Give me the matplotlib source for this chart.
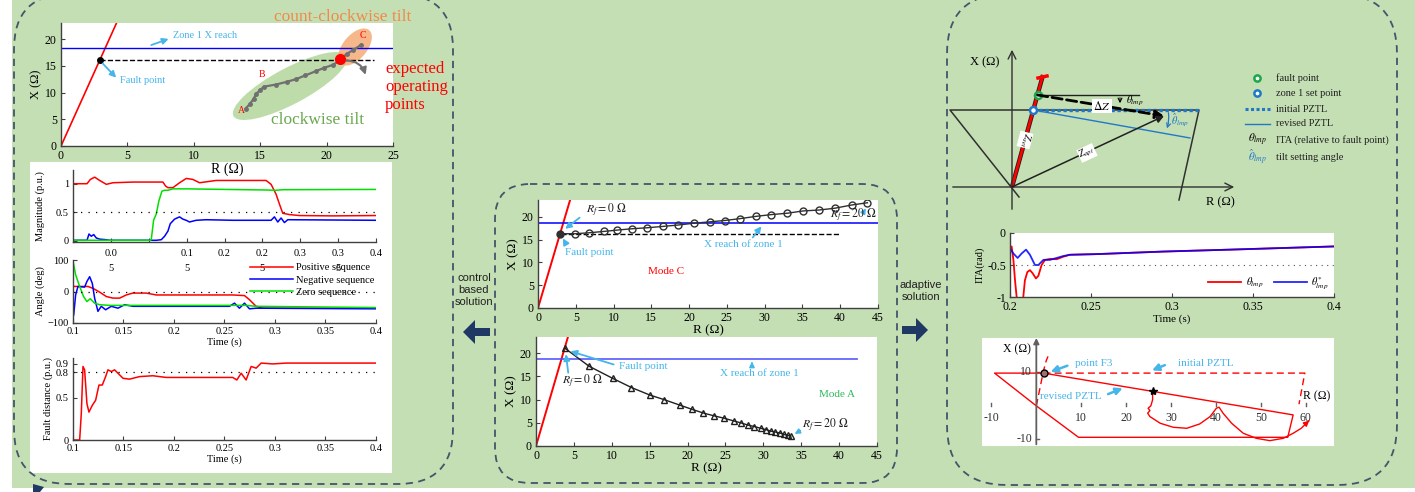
import matplotlib
matplotlib.use('Agg')
import matplotlib.pyplot as plt
from matplotlib.patches import FancyBboxPatch, Ellipse, Rectangle, Polygon
from matplotlib.lines import Line2D

plt.rcParams['font.family'] = ['Liberation Serif', 'DejaVu Serif']
plt.rcParams['mathtext.fontset'] = 'stix'

W, H = 1415, 492

# ---------------- data ----------------
# left top: R-X plane, expected trajectory
lt_line_r = [0, 4.2]
lt_line_x = [0, 23.1]
lt_zone1 = 18.4
lt_fault = (2.9, 16.1)
lt_dash_end = 23.6
lt_traj_r = [13.9, 14.2, 14.5, 14.7, 15.0, 15.3, 16.2, 17.0, 17.7, 18.4, 19.2, 19.8, 20.5, 21.0, 21.5, 22.0, 22.6]
lt_traj_x = [7.0, 7.8, 8.8, 9.75, 10.5, 11.1, 11.5, 12.0, 12.5, 13.2, 14.0, 14.6, 15.2, 16.0, 17.2, 17.95, 18.9]
lt_expected = (21.0, 16.3)

# sequence magnitudes (p.u.)
mag_t_pos = [0, 0.0185, 0.0229, 0.0286, 0.0352, 0.044, 0.0527, 0.0791, 0.1187, 0.1222, 0.1253, 0.1319,
             0.1407, 0.1495, 0.1582, 0.167, 0.189, 0.2549, 0.2615, 0.2681, 0.2725, 0.2769, 0.2857, 0.2989,
             0.3429, 0.4]
mag_pos = [1.0, 1.0, 1.075, 1.115, 1.057, 0.989, 1.017, 1.029, 1.029, 0.96, 0.931, 0.931, 1.017, 1.092,
           1.075, 1.017, 1.057, 1.057, 0.989, 0.816, 0.644, 0.483, 0.46, 0.443, 0.437, 0.443]
mag_t_zero = [0, 0.102, 0.1033, 0.1064, 0.1099, 0.1134, 0.1174, 0.1209, 0.1253, 0.1319, 0.1495, 0.2549,
              0.2681, 0.2769, 0.4]
mag_zero = [0.01, 0.01, 0.02, 0.36, 0.47, 0.7, 0.87, 0.885, 0.885, 0.91, 0.91, 0.89, 0.885, 0.895, 0.9]
mag_t_neg = [0, 0.0185, 0.0211, 0.0242, 0.0273, 0.0308, 0.0352, 0.044, 0.0484, 0.1099, 0.1165, 0.1209,
             0.1253, 0.1284, 0.1341, 0.1407, 0.1451, 0.1495, 0.1538, 0.1626, 0.1758, 0.211, 0.2615, 0.2659,
             0.2703, 0.2747, 0.2791, 0.2835, 0.4]
mag_neg = [0.01, 0.01, 0.12, 0.08, 0.11, 0.05, 0.03, 0.02, 0.01, 0.01, 0.02, 0.08, 0.17, 0.3, 0.38, 0.42,
           0.38, 0.36, 0.33, 0.36, 0.37, 0.36, 0.36, 0.42, 0.33, 0.4, 0.32, 0.37, 0.36]
mag_ticks = [0.05, 0.1, 0.15, 0.2, 0.25, 0.3, 0.35, 0.4]
mag_ticklabels = ['0.0\n5', '', '0.1\n5', '0.2', '0.2\n5', '0.3', '0.3\n5', '0.4']

# sequence angles (deg)
ang_t_pos = [0.1007, 0.1148, 0.1198, 0.1264, 0.133, 0.1396, 0.1462, 0.1527, 0.1593, 0.1725, 0.1824,
             0.2582, 0.2698, 0.2747, 0.2813, 0.2879, 0.4]
ang_pos = [16, 16, 10, -2, -16, -21, -21, -11, -5, -5, -11, -11, -13, -26, -47, -53, -53]
ang_t_neg = [0.1007, 0.1026, 0.1049, 0.1115, 0.1138, 0.1165, 0.1191, 0.1214, 0.1247, 0.128, 0.1323,
             0.1379, 0.1445, 0.1511, 0.1593, 0.1923, 0.2549, 0.2599, 0.2648, 0.2698, 0.2747, 0.2813, 0.4]
ang_neg = [-74, -11, 16, 14, 32, 47, 26, -21, -63, -47, -58, -47, -53, -42, -47, -47, -47, -37, -53, -37,
           -55, -53, -55]
ang_t_zero = [0.1, 0.1026, 0.1066, 0.1105, 0.1138, 0.1171, 0.1214, 0.1264, 0.1363, 0.2714, 0.2813, 0.4]
ang_zero = [97, 53, 16, -16, -32, -23, -37, -42, -44, -44, -47, -51]

# fault distance (p.u.)
fd_t = [0.1, 0.1066, 0.1082, 0.1099, 0.1115, 0.1138, 0.1158, 0.1191, 0.1224, 0.1257, 0.129, 0.1323,
        0.1346, 0.1379, 0.1412, 0.1445, 0.1495, 0.156, 0.1659, 0.1791, 0.1923, 0.2582, 0.2622, 0.2665,
        0.2714, 0.2764, 0.2813, 0.2863, 0.2978, 0.311, 0.4]
fd_val = [0, 0, 0.31, 0.87, 0.83, 0.43, 0.33, 0.41, 0.47, 0.65, 0.65, 0.75, 0.83, 0.81, 0.83, 0.79,
          0.73, 0.72, 0.75, 0.76, 0.74, 0.74, 0.71, 0.79, 0.71, 0.87, 0.85, 0.91, 0.9, 0.91, 0.91]

# mode C trajectory
mc_r = [2.95, 4.9, 6.7, 8.7, 10.5, 12.5, 14.4, 16.5, 18.5, 20.6, 22.7, 24.7, 26.7, 28.8, 30.9, 33.0,
        35.1, 37.2, 39.3, 41.5, 43.6]
mc_x = [16.3, 16.3, 16.5, 16.8, 17.1, 17.4, 17.6, 17.9, 18.2, 18.6, 18.9, 19.2, 19.6, 20.1, 20.5, 20.8,
        21.3, 21.5, 21.9, 22.6, 23.1]
mc_zone1 = 18.6
mc_dash = (3.0, 40.0, 16.2)

# mode A trajectory
ma_r = [3.8, 7.0, 10.1, 12.6, 15.0, 16.9, 19.0, 20.6, 22.1, 23.5, 24.8, 26.1, 27.0, 28.0, 28.8, 29.7,
        30.4, 31.0, 31.6, 32.2, 32.7, 33.2, 33.6]
ma_x = [21.1, 17.2, 14.6, 12.6, 11.0, 10.0, 8.8, 7.9, 7.1, 6.5, 6.0, 5.4, 5.0, 4.5, 4.2, 3.8, 3.5, 3.2,
        3.0, 2.8, 2.5, 2.3, 2.1]
ma_zone1 = 18.7
ma_zone1_end = 42.4

# ITA (rad)
ita_t_red = [0.2, 0.201, 0.2021, 0.2031, 0.2041, 0.2051, 0.2066, 0.2082, 0.2092, 0.2107, 0.2123, 0.214,
             0.216, 0.2175, 0.2195, 0.2216, 0.2247, 0.2288, 0.2329, 0.237, 0.2534, 0.2946, 0.3357, 0.4]
ita_red = [-0.26, -0.21, -0.42, -0.74, -1.0, -1.16, -1.21, -1.0, -0.74, -0.61, -0.58, -0.63, -0.71,
           -0.67, -0.5, -0.42, -0.405, -0.41, -0.37, -0.34, -0.33, -0.29, -0.26, -0.21]
ita_t_blue = [0.2, 0.2021, 0.2047, 0.2072, 0.2099, 0.2123, 0.2154, 0.2175, 0.2206, 0.2247, 0.2288,
              0.2329, 0.237, 0.2534, 0.2946, 0.3357, 0.4]
ita_blue = [-0.24, -0.32, -0.39, -0.32, -0.26, -0.34, -0.5, -0.5, -0.42, -0.42, -0.39, -0.36, -0.34,
            -0.33, -0.29, -0.26, -0.21]

# schematic (right top), units = pixels from the origin
sc_quad = [(7, -10), (-62, 77), (187, 77), (167, -13)]
sc_zline = [(0, 0), (31, 112)]
sc_fault = (25.5, 92)
sc_set = (21.3, 77)
sc_zapt = (152, 71)
sc_revised_end = (178, 49)
sc_initial_end = (187, 77)

# R-X with trajectory (right bottom)
rb_zone = [(1.6, 9.8), (-9.3, 9.8), (0, 0), (9.4, -9.4), (56, -9.4), (57.2, -2.7), (1.6, 9.8)]
rb_initial = [(1.6, 9.8), (59.8, 9.8), (58.5, 0.5)]
rb_zline = [(0, 0), (1.6, 10.5), (2.2, 13.5), (2.6, 14.8)]
rb_f3 = (1.6, 9.8)
rb_start = (25.9, 4.3)
rb_traj_r = [25.9, 25.9, 25.5, 24.9, 25.3, 24.8, 25.3, 27.6, 30.5, 33.5, 36.4, 38.7, 40.1, 40.7, 41.6,
             43.5, 46.1, 49.0, 52.0, 55.0, 57.2, 59.0, 60.3]
rb_traj_x = [4.3, 1.8, 0.0, -0.7, -1.4, -2.2, -3.2, -5.2, -6.4, -6.7, -5.4, -3.2, -0.7, -0.4, -2.2, -5.2,
             -8.2, -9.7, -10.4, -9.7, -8.2, -6.7, -5.0]
rb_xticks = [-10, 10, 20, 30, 40, 50, 60]
rb_yticks = [10, -10]

LB = '#45b5ea'
NAVY = '#203864'
BOXC = '#44546a'

fig = plt.figure(figsize=(W / 100, H / 100), dpi=100)


def px_axes(x0, y0, x1, y1, **kw):
    return fig.add_axes([x0 / W, 1 - y1 / H, (x1 - x0) / W, (y1 - y0) / H], **kw)


def matlab_style(ax, fs=8):
    for s in ['top', 'right']:
        ax.spines[s].set_visible(False)
    for s in ['left', 'bottom']:
        ax.spines[s].set_color('#404040')
        ax.spines[s].set_linewidth(1.0)
    ax.tick_params(direction='in', labelsize=fs, length=3, width=0.8, color='#404040', pad=3)


def lb_arrow(ax, xy, xytext, ms=9, lw=1.3):
    ax.annotate('', xy=xy, xytext=xytext,
                arrowprops=dict(arrowstyle='-|>', color=LB, lw=lw, mutation_scale=ms))


# ---------------- background (green, white panels, ellipses) ----------------
bg = fig.add_axes([0, 0, 1, 1], zorder=-5)
bg.set_xlim(0, W)
bg.set_ylim(H, 0)
bg.axis('off')
bg.add_patch(Rectangle((12, 0), W - 12, 488, color='#c5dfb4', lw=0))
bg.add_patch(Rectangle((61, 23), 332, 123, color='white', lw=0))
bg.add_patch(Rectangle((30, 162), 362, 311, color='white', lw=0))
bg.add_patch(Rectangle((982, 338), 352, 108, color='white', lw=0))
bg.add_patch(Ellipse((290, 86), 128, 36, angle=-28, color='#a9d18e', alpha=0.75, lw=0))
bg.add_patch(Ellipse((355, 47), 44, 24, angle=-50, color='#f4a56e', alpha=0.8, lw=0))

# ---------------- left top: R-X ----------------
ax = px_axes(61, 23, 393, 146, facecolor='none')
matlab_style(ax, 8.5)
ax.plot(lt_line_r, lt_line_x, color='red', lw=1.2)
ax.axhline(lt_zone1, color='blue', lw=1.0)
ax.plot([lt_fault[0], lt_dash_end], [lt_fault[1], lt_fault[1]], 'k--', lw=1.0)
ax.plot(lt_traj_r, lt_traj_x, color='#707070', lw=1.6, marker='o', ms=2.5)
ax.plot(*lt_fault, 'ko', ms=4)
ax.plot(*lt_expected, 'o', color='red', ms=7)
ax.annotate('', xy=(23.0, 12.8), xytext=(21.3, 16.0),
            arrowprops=dict(arrowstyle='-|>', color='#707070', lw=1.5, mutation_scale=10,
                            connectionstyle='arc3,rad=-0.4'))
lb_arrow(ax, (4.3, 12.4), (3.0, 15.8))
ax.text(4.45, 12.2, 'Fault point', color=LB, fontsize=7.5, va='center')
lb_arrow(ax, (8.3, 20.2), (6.6, 18.7))
ax.text(8.4, 20.6, 'Zone 1 X reach', color=LB, fontsize=7.5, va='center')
ax.text(13.3, 6.2, 'A', color='red', fontsize=7)
ax.text(14.9, 12.9, 'B', color='red', fontsize=7)
ax.text(22.5, 20.2, 'C', color='red', fontsize=7)
ax.set_xlim(0, 25)
ax.set_ylim(0, 23)
ax.set_xticks([0, 5, 10, 15, 20, 25])
ax.set_yticks([0, 5, 10, 15, 20])
ax.set_xlabel('R (\u03a9)', fontsize=10, labelpad=0)
ax.set_ylabel('X (\u03a9)', fontsize=9, labelpad=2)

# ---------------- magnitude ----------------
ax = px_axes(73, 170, 376, 242, facecolor='none')
matlab_style(ax, 7.5)
ax.plot(mag_t_pos, mag_pos, color='red', lw=1.1)
ax.plot(mag_t_neg, mag_neg, color='blue', lw=1.1)
ax.plot(mag_t_zero, mag_zero, color='#00e000', lw=1.1)
ax.axhline(0.5, color='black', ls=(0, (1, 5)), lw=0.9)
ax.set_xlim(0, 0.4)
ax.set_ylim(-0.02, 1.24)
ax.set_yticks([0, 0.5, 1])
ax.set_yticklabels(['0', '0.5', '1'])
ax.set_xticks(mag_ticks)
ax.set_xticklabels(mag_ticklabels, linespacing=1.9)
ax.tick_params(axis='x', pad=5)
ax.set_ylabel('Magnitude (p.u.)', fontsize=7.5, labelpad=8)

# ---------------- angle ----------------
ax = px_axes(73, 260, 376, 323, facecolor='none')
matlab_style(ax, 7.5)
l1, = ax.plot(ang_t_pos, ang_pos, color='red', lw=1.1)
l2, = ax.plot(ang_t_neg, ang_neg, color='blue', lw=1.1)
l3, = ax.plot(ang_t_zero, ang_zero, color='#00e000', lw=1.1)
ax.axhline(0, color='black', ls=(0, (1, 5)), lw=0.9)
ax.set_xlim(0.1, 0.4)
ax.set_ylim(-100, 100)
ax.set_yticks([-100, 0, 100])
ax.set_xticks([0.1, 0.15, 0.2, 0.25, 0.3, 0.35, 0.4])
ax.set_xticklabels(['0.1', '0.15', '0.2', '0.25', '0.3', '0.35', '0.4'])
ax.set_xlabel('Time (s)', fontsize=7.5, labelpad=1)
ax.set_ylabel('Angle (deg)', fontsize=7.5, labelpad=2)
ax.legend([l1, l2, l3], ['Positive sequence', 'Negative sequence', 'Zero sequence'],
          loc='upper right', bbox_to_anchor=(1.01, 1.02), frameon=False, fontsize=7.5,
          handlelength=4.2, handletextpad=0.3, labelspacing=0.3, borderaxespad=0.0)

# ---------------- fault distance ----------------
ax = px_axes(73, 358, 376, 440, facecolor='none')
matlab_style(ax, 7.5)
ax.plot(fd_t, fd_val, color='red', lw=1.1)
ax.axhline(0.8, color='black', ls=(0, (1, 5)), lw=0.9)
ax.set_xlim(0.1, 0.4)
ax.set_ylim(0, 0.97)
ax.set_yticks([0, 0.5, 0.8, 0.9])
ax.set_yticklabels(['0', '0.5', '0.8', '0.9'])
ax.set_xticks([0.1, 0.15, 0.2, 0.25, 0.3, 0.35, 0.4])
ax.set_xticklabels(['0.1', '0.15', '0.2', '0.25', '0.3', '0.35', '0.4'])
ax.set_xlabel('Time (s)', fontsize=7.5, labelpad=1)
ax.set_ylabel('Fault distance (p.u.)', fontsize=7.5, labelpad=2)

# ---------------- mode C ----------------
ax = px_axes(538, 200, 878, 308)
matlab_style(ax, 8.5)
ax.plot([0, 4.3], [0, 24], color='red', lw=1.4)
ax.axhline(mc_zone1, color='blue', lw=1.1)
ax.plot(mc_dash[:2], [mc_dash[2]] * 2, 'k--', lw=1.0)
ax.plot(mc_r, mc_x, color='#303030', lw=1.0, marker='o', ms=5, mfc='none', mec='#303030')
ax.plot(mc_r[0], mc_x[0], 'o', color='#303030', ms=4)
lb_arrow(ax, (3.3, 17.0), (5.8, 20.2))
ax.text(6.3, 21.3, r'$R_f = 0\ \Omega$', fontsize=8.5, color='#202020', va='center')
lb_arrow(ax, (3.1, 15.8), (3.9, 13.5))
ax.text(3.6, 12.1, 'Fault point', fontsize=8, color=LB, va='center')
lb_arrow(ax, (29.8, 18.4), (28.2, 15.0))
ax.text(22.0, 14.0, 'X reach of zone 1', fontsize=8, color=LB, va='center')
lb_arrow(ax, (43.6, 22.4), (43.0, 20.8), ms=7)
ax.text(38.6, 20.2, r'$R_f = 20\ \Omega$', fontsize=8.5, color='#202020', va='center')
ax.text(17.0, 8.1, 'Mode C', fontsize=8, color='red', ha='center', va='center')
ax.set_xlim(0, 45)
ax.set_ylim(0, 23.7)
ax.set_xticks(range(0, 50, 5))
ax.set_yticks([0, 5, 10, 15, 20])
ax.set_xlabel('R (\u03a9)', fontsize=9.5, labelpad=0)
ax.set_ylabel('X (\u03a9)', fontsize=9.5, labelpad=2)

# ---------------- mode A ----------------
ax = px_axes(536, 337, 877, 446)
matlab_style(ax, 8.5)
ax.plot([0, 4.3], [0, 24], color='red', lw=1.4)
ax.plot([0, ma_zone1_end], [ma_zone1] * 2, color='#4a4aff', lw=1.3, alpha=0.85)
ax.plot(ma_r, ma_x, color='#202020', lw=1.0, marker='^', ms=5, mfc='none', mec='#202020')
lb_arrow(ax, (4.2, 20.6), (10.6, 17.4))
ax.text(10.9, 17.1, 'Fault point', fontsize=8, color=LB, va='center')
lb_arrow(ax, (3.9, 20.4), (4.3, 15.2))
ax.text(3.4, 13.9, r'$R_f = 0\ \Omega$', fontsize=8.5, color='#202020', va='center')
lb_arrow(ax, (28.5, 18.8), (28.5, 17.0), ms=7)
ax.text(24.3, 15.7, 'X reach of zone 1', fontsize=8, color=LB, va='center')
lb_arrow(ax, (33.8, 2.3), (35.2, 3.6), ms=7)
ax.text(35.1, 4.5, r'$R_f = 20\ \Omega$', fontsize=8.5, color='#202020', va='center')
ax.text(39.7, 11.0, 'Mode A', fontsize=8, color='#2fb85a', ha='center', va='center')
ax.set_xlim(0, 45)
ax.set_ylim(0, 23.5)
ax.set_xticks(range(0, 50, 5))
ax.set_yticks([0, 5, 10, 15, 20])
ax.set_xlabel('R (\u03a9)', fontsize=9.5, labelpad=0)
ax.set_ylabel('X (\u03a9)', fontsize=9.5, labelpad=2)

# ---------------- right top schematic ----------------
ax = px_axes(940, 40, 1245, 215, facecolor='none')
ax.axis('off')
ax.set_xlim(-72, 233)
ax.set_ylim(-28, 147)
ax.annotate('', xy=(225, 0), xytext=(-62, 0),
            arrowprops=dict(arrowstyle='->', color='#303030', lw=1.0, mutation_scale=14))
ax.annotate('', xy=(0, 140), xytext=(0, -25),
            arrowprops=dict(arrowstyle='->', color='#303030', lw=1.0, mutation_scale=14))
qx, qy = zip(*sc_quad)
ax.plot(qx, qy, color='#303030', lw=1.1)
zx, zy = zip(*sc_zline)
ax.plot(zx, zy, color='#202020', lw=3.2, solid_capstyle='butt')
ax.plot(zx, zy, color='red', lw=2.0, solid_capstyle='butt')
ax.plot([26, 35], [109, 111], color='red', lw=2.5)
ax.plot([sc_fault[0], 127], [sc_fault[1]] * 2, color='#202020', lw=1.0)
ax.annotate('', xy=sc_zapt, xytext=sc_fault,
            arrowprops=dict(arrowstyle='-|>', color='black', lw=2.0, ls='--', mutation_scale=12,
                            shrinkA=0, shrinkB=0))
ax.text(90, 81, r'$\Delta Z$', fontsize=8.5, ha='center', va='center',
        bbox=dict(facecolor='white', edgecolor='none', pad=0.5))
ax.annotate('', xy=(108, 81), xytext=(108, 92),
            arrowprops=dict(arrowstyle='->', color='black', lw=0.8, mutation_scale=7))
ax.text(114, 86, r'$\theta_{lmp}$', fontsize=7.5, va='center')
ax.plot([sc_set[0], sc_initial_end[0]], [sc_set[1], sc_initial_end[1]], color='#1f78c8', lw=2.4,
        ls=(0, (1, 0.8)))
ax.plot([sc_set[0], sc_revised_end[0]], [sc_set[1], sc_revised_end[1]], color='#1f78c8', lw=1.0)
ax.annotate('', xy=(154, 56), xytext=(156, 77),
            arrowprops=dict(arrowstyle='->', color='#1f78c8', lw=0.9, mutation_scale=7,
                            connectionstyle='arc3,rad=-0.15'))
ax.text(159, 67, r'$\hat{\theta}_{lmp}$', fontsize=7.5, color='#1f78c8', va='center')
ax.annotate('', xy=sc_zapt, xytext=(0, 0),
            arrowprops=dict(arrowstyle='-|>', color='#202020', lw=1.1, mutation_scale=11,
                            shrinkA=0, shrinkB=0))
ax.text(75, 34, r'$Z_{apt}$', fontsize=7, rotation=25, ha='center', va='center',
        bbox=dict(facecolor='white', edgecolor='none', pad=0.3))
ax.text(13, 47, r'$Z_{set}$', fontsize=7, rotation=-105, ha='center', va='center',
        bbox=dict(facecolor='white', edgecolor='none', pad=0.3))
ax.plot(*sc_fault, 'o', ms=5, mfc='white', mec='#1aa84a', mew=1.8)
ax.plot(*sc_set, 'o', ms=5, mfc='white', mec='#1f78c8', mew=1.8)
ax.text(-27, 125, 'X (\u03a9)', fontsize=9, ha='center', va='center')
ax.text(208, -15, 'R (\u03a9)', fontsize=9, ha='center', va='center')

# ---------------- ITA ----------------
ax = px_axes(1010, 233, 1334, 297)
matlab_style(ax, 8.5)
r1, = ax.plot(ita_t_red, ita_red, color='red', lw=1.3)
r2, = ax.plot(ita_t_blue, ita_blue, color='blue', lw=1.3, alpha=0.85)
ax.axhline(-0.5, color='#505050', ls=(0, (1, 4)), lw=0.8)
ax.set_xlim(0.2, 0.4)
ax.set_ylim(-1, 0)
ax.set_yticks([-1, -0.5, 0])
ax.set_yticklabels(['-1', '-0.5', '0'])
ax.set_xticks([0.2, 0.25, 0.3, 0.35, 0.4])
ax.set_xticklabels(['0.2', '0.25', '0.3', '0.35', '0.4'])
ax.set_xlabel('Time (s)', fontsize=8, labelpad=1)
ax.set_ylabel('ITA(rad)', fontsize=7.5, labelpad=2)
ax.legend([r1, r2], [r'$\theta_{lmp}$', r'$\theta^{*}_{lmp}$'], ncol=2, loc='lower right',
          frameon=False, fontsize=7.5, handlelength=3.2, handletextpad=0.4, columnspacing=1.0,
          borderaxespad=0.1)

# ---------------- right bottom R-X ----------------
ax = px_axes(982, 338, 1334, 446, facecolor='none')
ax.axis('off')
ax.set_xlim(-12.1, 66.3)
ax.set_ylim(-12, 20.3)
ax.annotate('', xy=(67, 0), xytext=(-12.4, 0),
            arrowprops=dict(arrowstyle='-|>', color='#606060', lw=1.3, mutation_scale=8,
                            shrinkA=0, shrinkB=0))
ax.annotate('', xy=(0, 20.3), xytext=(0, -11.5),
            arrowprops=dict(arrowstyle='-|>', color='#606060', lw=1.3, mutation_scale=8,
                            shrinkA=0, shrinkB=0))
for xt in rb_xticks:
    ax.plot([xt, xt], [0, 0.9], color='#606060', lw=1.0)
    ax.text(xt, -3.6, str(xt), fontsize=8.5, ha='center', va='center', color='#303030')
for yt in rb_yticks:
    ax.plot([0, 0.7], [yt, yt], color='#606060', lw=1.0)
    ax.text(-1.0, yt, str(yt), fontsize=8.5, ha='right', va='center', color='#303030')
ax.text(-4.3, 16.8, 'X (\u03a9)', fontsize=8.5, ha='center', va='center')
ax.text(62.4, 2.8, 'R (\u03a9)', fontsize=8.5, ha='center', va='center')
zx, zy = zip(*rb_zone)
ax.plot(zx, zy, color='red', lw=1.0)
ix, iy = zip(*rb_initial)
ax.plot(ix, iy, color='red', lw=1.0, ls=(0, (5, 3)))
lx, ly = zip(*rb_zline)
ax.plot(lx, ly, color='red', lw=1.0, ls=(0, (5, 3)))
ax.plot(rb_traj_r, rb_traj_x, color='red', lw=1.0)
ax.annotate('', xy=(60.8, -4.4), xytext=(rb_traj_r[-1], rb_traj_x[-1]),
            arrowprops=dict(arrowstyle='-|>', color='red', lw=1.0, mutation_scale=8))
ax.plot(*rb_f3, 'o', ms=5, mfc='#a07070', mec='black', mew=1.0)
ax.plot(*rb_start, '*', ms=6, color='black')
lb_arrow(ax, (2.6, 9.9), (7.5, 12.3), ms=10, lw=1.8)
ax.text(8.7, 12.8, 'point F3', fontsize=8, color=LB, va='center')
lb_arrow(ax, (25.2, 10.3), (29.2, 12.5), ms=10, lw=1.8)
ax.text(31.6, 12.8, 'initial PZTL', fontsize=8, color=LB, va='center')
lb_arrow(ax, (19.8, 5.6), (15.4, 3.2), ms=10, lw=1.8)
ax.text(0.9, 2.8, 'revised PZTL', fontsize=8, color=LB, va='center')

# ---------------- overlay: boxes, labels, arrows, legend ----------------
ov = fig.add_axes([0, 0, 1, 1], zorder=10, facecolor='none')
ov.set_xlim(0, W)
ov.set_ylim(H, 0)
ov.axis('off')
dash = dict(fill=False, edgecolor=BOXC, lw=1.3, ls=(0, (4, 3)))
ov.add_patch(FancyBboxPatch((14, -6), 439, 490, boxstyle='round,pad=0,rounding_size=55', **dash))
ov.add_patch(FancyBboxPatch((495, 184), 402, 299, boxstyle='round,pad=0,rounding_size=35', **dash))
ov.add_patch(FancyBboxPatch((947, -6), 450, 491, boxstyle='round,pad=0,rounding_size=60', **dash))

ov.text(343, 17, 'count-clockwise tilt', fontsize=12.5, color='#f08a4b', ha='center', va='center')
ov.text(318, 120, 'clockwise tilt', fontsize=12.5, color='#6aa84f', ha='center', va='center')
ov.text(385, 87, 'expected\noperating\npoints', fontsize=12, color='red', ha='left', va='center',
        linespacing=1.15)

ov.text(474, 290, 'control\nbased\nsolution', fontsize=8, family=['Liberation Sans'],
        ha='center', va='center', color='#202020', linespacing=1.2)
ov.text(921, 291, 'adaptive\nsolution', fontsize=8, family=['Liberation Sans'],
        ha='center', va='center', color='#202020', linespacing=1.2)
ov.add_patch(Polygon([(463, 332), (475, 320), (475, 328), (490, 328), (490, 336), (475, 336),
                      (475, 344)], color=NAVY, lw=0))
ov.add_patch(Polygon([(928, 330), (916, 318), (916, 326), (902, 326), (902, 334), (916, 334),
                      (916, 342)], color=NAVY, lw=0))
ov.add_patch(Polygon([(33, 492), (33, 484), (44, 487), (40, 492)], color=NAVY, lw=0))

# legend of the schematic
leg_y = [78, 93, 109, 124, 140, 157]
ov.plot(1257, leg_y[0], 'o', ms=4.5, mfc='white', mec='#1aa84a', mew=1.8)
ov.plot(1257, leg_y[1], 'o', ms=4.5, mfc='white', mec='#1f78c8', mew=1.8)
ov.add_line(Line2D([1245, 1270], [leg_y[2]] * 2, color='#1f78c8', lw=2.2, ls=(0, (1, 0.8))))
ov.add_line(Line2D([1245, 1270], [leg_y[3]] * 2, color='#1f78c8', lw=1.0))
ov.text(1257, leg_y[4], r'$\theta_{lmp}$', fontsize=8, ha='center', va='center')
ov.text(1257, leg_y[5], r'$\hat{\theta}_{lmp}$', fontsize=8, ha='center', va='center', color='#1f78c8')
leg_txt = ['fault point', 'zone 1 set point', 'initial PZTL', 'revised PZTL',
           'ITA (relative to fault point)', 'tilt setting angle']
for yy, tt in zip(leg_y, leg_txt):
    ov.text(1276, yy, tt, fontsize=7.5, va='center', color='#202020')

fig.savefig('out.png', dpi=100)
